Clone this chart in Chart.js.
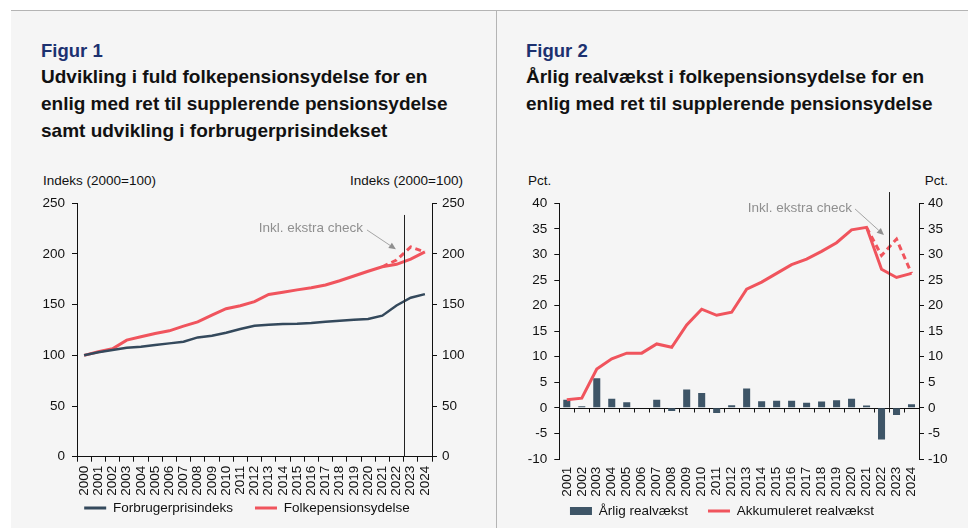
<!DOCTYPE html>
<html><head><meta charset="utf-8">
<script src="https://cdn.jsdelivr.net/npm/chart.js@4.4.1/dist/chart.umd.min.js"></script>
<style>
html,body{margin:0;padding:0;background:#fff;width:968px;height:528px;overflow:hidden;font-family:"Liberation Sans",Arial,sans-serif;}
.panel{position:absolute;background:#f5f5f5;top:11px;bottom:0;}
#p1{left:11px;width:485px;}
#p2{left:497px;width:471px;}
.hline{position:absolute;left:11px;right:0;top:10px;height:1px;background:#b4b4b4;}
.vline{position:absolute;left:496px;top:10px;bottom:0;width:1px;background:#b4b4b4;}
.fig{position:absolute;font-weight:bold;font-size:18.5px;line-height:27.3px;color:#1c3170;white-space:nowrap}
.title{position:absolute;font-weight:bold;font-size:19px;line-height:27.3px;color:#111;white-space:nowrap}
.ax{position:absolute;font-size:13.5px;color:#111;white-space:nowrap;line-height:16px}
canvas{position:absolute}
</style></head>
<body>
<div class="panel" id="p1"></div>
<div class="panel" id="p2"></div>
<div class="hline"></div>
<div class="vline"></div>

<div class="fig" style="left:41px;top:37.2px">Figur 1</div>
<div class="title" style="left:41px;top:62.5px">Udvikling i fuld folkepensionsydelse for en<br>enlig med ret til supplerende pensionsydelse<br>samt udvikling i forbrugerprisindekset</div>
<div class="fig" style="left:526px;top:37.2px">Figur 2</div>
<div class="title" style="left:526px;top:62.5px">Årlig realvækst i folkepensionsydelse for en<br>enlig med ret til supplerende pensionsydelse</div>

<div class="ax" style="left:43px;top:173px">Indeks (2000=100)</div>
<div class="ax" style="right:505px;top:173px">Indeks (2000=100)</div>
<div class="ax" style="left:528px;top:173px">Pct.</div>
<div class="ax" style="right:20px;top:173px">Pct.</div>

<canvas id="c1" width="484" height="368" style="left:11px;top:160px"></canvas>
<canvas id="c2" width="471" height="368" style="left:497px;top:160px"></canvas>

<script>
// ---------- Data ----------
const years1 = ['2000','2001','2002','2003','2004','2005','2006','2007','2008','2009','2010','2011','2012','2013','2014','2015','2016','2017','2018','2019','2020','2021','2022','2023','2024'];
const cpi = [100,103,105.2,107.5,108.5,110.2,111.8,113.4,117.7,119.3,122.3,126,129.2,130.2,130.9,131.2,131.9,133.2,134.2,135.2,135.8,139.1,149.2,156.8,160.4];
const pension = [100,103.5,106.5,115,118.3,121.6,124.2,128.8,133,139.7,146,149,153,160,162.3,164.6,166.6,169.4,173.6,178.3,183,187.4,189.8,195,202];
const pensionCheck = [null,null,null,null,null,null,null,null,null,null,null,null,null,null,null,null,null,null,null,null,null,187.4,194,207,202];

const years2 = ['2001','2002','2003','2004','2005','2006','2007','2008','2009','2010','2011','2012','2013','2014','2015','2016','2017','2018','2019','2020','2021','2022','2023','2024'];
const annual = [1.6,0.33,5.8,1.8,1.1,0.1,1.6,-0.6,3.6,2.9,-1.0,0.5,3.8,1.3,1.4,1.4,1.0,1.25,1.5,1.8,0.45,-6.2,-1.4,0.7];
const accum = [1.6,1.9,7.6,9.6,10.7,10.7,12.5,11.85,16.2,19.3,18.1,18.7,23.2,24.6,26.3,28.0,29.1,30.6,32.3,34.8,35.3,27.1,25.5,26.3];
const accumCheck = [null,null,null,null,null,null,null,null,null,null,null,null,null,null,null,null,null,null,null,null,35.3,29.8,33.0,26.3];

const annotationText = 'Inkl. ekstra check';

// ---------- Styles ----------
const RED = '#f0545d';
const NAVY = '#34495c';
const BAR = '#3e5567';
const AXIS = '#111';
Chart.defaults.font.family = "'Liberation Sans', Arial, sans-serif";
Chart.defaults.font.size = 13.5;
Chart.defaults.color = '#111';

const markerPlugin = {
  id: 'marker',
  beforeDatasetsDraw(chart, args, o) {
    if (!o.zeroLine) return;
    const {ctx, chartArea} = chart;
    const x = chart.scales.x, y = chart.scales.y;
    const y0 = Math.round(y.getPixelForValue(0)) + 0.5;
    ctx.save();
    ctx.strokeStyle = AXIS; ctx.lineWidth = 1;
    ctx.beginPath();
    ctx.moveTo(chartArea.left, y0); ctx.lineTo(chartArea.right, y0);
    const n = chart.data.labels.length;
    for (let i = 0; i <= n; i++) {
      const px = i === 0 ? chartArea.left : (i === n ? chartArea.right : (x.getPixelForValue(i - 1) + x.getPixelForValue(i)) / 2);
      const xx = Math.round(px) + 0.5;
      ctx.moveTo(xx, y0); ctx.lineTo(xx, y0 + 4);
    }
    ctx.stroke();
    ctx.restore();
  },
  afterDatasetsDraw(chart, args, o) {
    const {ctx} = chart;
    const x = chart.scales.x, y = chart.scales.y;
    ctx.save();
    const xs = Math.round((x.getPixelForValue(o.splitAfter) + x.getPixelForValue(o.splitAfter + 1)) / 2) + 0.5;
    ctx.strokeStyle = '#222'; ctx.lineWidth = 1;
    ctx.beginPath();
    ctx.moveTo(xs, y.getPixelForValue(o.lineTop));
    ctx.lineTo(xs, y.getPixelForValue(o.lineBottom));
    ctx.stroke();
    ctx.font = "13.5px 'Liberation Sans', Arial, sans-serif";
    ctx.fillStyle = '#8f8f8f';
    ctx.textAlign = 'right'; ctx.textBaseline = 'middle';
    ctx.fillText(o.text, x.getPixelForValue(o.textAt[0]), y.getPixelForValue(o.textAt[1]));
    const x1 = x.getPixelForValue(o.arrowFrom[0]), y1 = y.getPixelForValue(o.arrowFrom[1]);
    const x2 = x.getPixelForValue(o.arrowTo[0]), y2 = y.getPixelForValue(o.arrowTo[1]);
    const ang = Math.atan2(y2 - y1, x2 - x1);
    const hl = 7, hw = 3.2;
    const bx = x2 - hl * Math.cos(ang), by = y2 - hl * Math.sin(ang);
    ctx.strokeStyle = '#8f8f8f'; ctx.fillStyle = '#8f8f8f'; ctx.lineWidth = 0.8;
    ctx.beginPath(); ctx.moveTo(x1, y1); ctx.lineTo(bx, by); ctx.stroke();
    ctx.beginPath();
    ctx.moveTo(x2, y2);
    ctx.lineTo(bx + hw * Math.sin(ang), by - hw * Math.cos(ang));
    ctx.lineTo(bx - hw * Math.sin(ang), by + hw * Math.cos(ang));
    ctx.closePath(); ctx.fill();
    ctx.restore();
  }
};

function legendLabels(chart) {
  const items = Chart.defaults.plugins.legend.labels.generateLabels(chart);
  return items.filter(it => !chart.data.datasets[it.datasetIndex].noLegend).map(it => {
    const ds = chart.data.datasets[it.datasetIndex];
    if ((ds.type || chart.config.type) === 'bar') { it.pointStyle = 'rect'; it.lineWidth = 0; }
    else { it.pointStyle = 'line'; it.lineWidth = 3; }
    return it;
  });
}

function fixSize(prop, val) {
  return s => { s[prop] = val; s._computeLabelArea = () => undefined; };
}

function yAxis(pos, min, max, step, pad, width) {
  return {
    position: pos, min: min, max: max,
    ticks: {stepSize: step, padding: pad, color: '#111'},
    grid: {drawOnChartArea: false, drawTicks: true, tickLength: 5, color: AXIS},
    border: {display: true, color: AXIS, width: 1},
    afterFit: fixSize('width', width)
  };
}

const legendOpts = (pad) => ({
  position: 'bottom',
  labels: {
    usePointStyle: true, pointStyleWidth: 22, boxHeight: 8, padding: pad, color: '#111',
    font: {size: 13.5}, generateLabels: legendLabels,
    sort: (a, b) => a.datasetIndex - b.datasetIndex
  }
});

// ---------- Chart 1 ----------
new Chart(document.getElementById('c1'), {
  type: 'line',
  data: {
    labels: years1,
    datasets: [
      {label: 'Forbrugerprisindeks', data: cpi, borderColor: NAVY, backgroundColor: NAVY, borderWidth: 2.5, pointRadius: 0, yAxisID: 'y'},
      {label: 'Folkepensionsydelse', data: pension, borderColor: RED, backgroundColor: RED, borderWidth: 3, pointRadius: 0, yAxisID: 'y'},
      {label: annotationText, data: pensionCheck, borderColor: RED, backgroundColor: RED, borderDash: [6, 4], borderWidth: 3, pointRadius: 0, yAxisID: 'y', noLegend: true}
    ]
  },
  options: {
    responsive: false, animation: false, devicePixelRatio: 1,
    layout: {padding: {top: 43.3, left: 0, right: 12, bottom: 3.25}},
    scales: {
      x: {
        offset: true,
        grid: {offset: true, drawOnChartArea: false, drawTicks: true, tickLength: 5, color: AXIS},
        border: {display: true, color: AXIS},
        ticks: {maxRotation: 90, minRotation: 90, autoSkip: false, padding: 4, color: '#111'},
        afterFit: fixSize('height', 22.55)
      },
      y: yAxis('left', 0, 250, 50, 7, 66),
      y2: yAxis('right', 0, 250, 50, 5, 51)
    },
    plugins: {
      tooltip: {enabled: false},
      legend: legendOpts(22),
      marker: {splitAfter: 22, lineTop: 238.5, lineBottom: 0, text: annotationText, textAt: [19.64, 225.6], arrowFrom: [19.92, 223.7], arrowTo: [21.96, 204.6]}
    }
  },
  plugins: [markerPlugin]
});

// ---------- Chart 2 ----------
new Chart(document.getElementById('c2'), {
  type: 'bar',
  data: {
    labels: years2,
    datasets: [
      {type: 'bar', label: 'Årlig realvækst', data: annual, backgroundColor: BAR, categoryPercentage: 1, barPercentage: 0.47, order: 3},
      {type: 'line', label: 'Akkumuleret realvækst', data: accum, borderColor: RED, backgroundColor: RED, borderWidth: 3, pointRadius: 0, order: 2},
      {type: 'line', label: annotationText, data: accumCheck, borderColor: RED, backgroundColor: RED, borderDash: [6, 4], borderWidth: 3, pointRadius: 0, noLegend: true, order: 1}
    ]
  },
  options: {
    responsive: false, animation: false, devicePixelRatio: 1,
    layout: {padding: {top: 43.3, left: 0, right: 21, bottom: 0.25}},
    scales: {
      x: {
        offset: true,
        grid: {display: false, drawTicks: false},
        border: {display: false},
        ticks: {maxRotation: 90, minRotation: 90, autoSkip: false, padding: 7.7, color: '#111'},
        afterFit: fixSize('height', 25.25)
      },
      y: yAxis('left', -10, 40, 5, 7, 62.3),
      y2: yAxis('right', -10, 40, 5, 4, 28)
    },
    plugins: {
      tooltip: {enabled: false},
      legend: legendOpts(20),
      marker: {zeroLine: true, splitAfter: 21, lineTop: 42.2, lineBottom: 0, text: annotationText, textAt: [19.03, 39.1], arrowFrom: [19.23, 38.9], arrowTo: [21.16, 33.8]}
    }
  },
  plugins: [markerPlugin]
});
</script>
</body></html>
